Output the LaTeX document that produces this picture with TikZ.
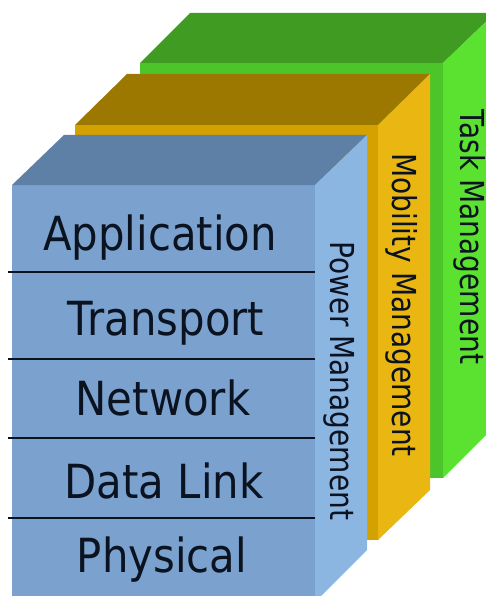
\documentclass[tikz,border=0pt]{standalone}
\usepackage{fontspec}
\newfontfamily\layerfont[FakeStretch=0.89]{DejaVu Sans}
\newfontfamily\planefont[FakeStretch=0.85]{DejaVu Sans}
\definecolor{bluetop}{HTML}{5E7FA6}
\definecolor{bluefront}{HTML}{7BA2CF}
\definecolor{blueside}{HTML}{8CB6E2}
\definecolor{ochretop}{HTML}{9C7800}
\definecolor{ochrefront}{HTML}{D4A200}
\definecolor{ochreside}{HTML}{E9B612}
\definecolor{greentop}{HTML}{3F9B21}
\definecolor{greenfront}{HTML}{4CC52B}
\definecolor{greenside}{HTML}{5BE231}
\definecolor{inktext}{HTML}{0B1220}
\begin{document}
\begin{tikzpicture}[x=1pt,y=-1pt,
  layertext/.style={text=inktext,inner sep=0pt,anchor=base,
    font=\layerfont\fontsize{47}{56}\selectfont},
  sidetext/.style={text=inktext,inner sep=0pt,anchor=base,rotate=-90,
    font=\planefont\fontsize{33}{40}\selectfont},
  divider/.style={draw=inktext,line width=2.4pt}]
\useasboundingbox (0,0) rectangle (486,596);
\clip (0,0) rectangle (486,596);

% Task management block (back)
\fill[greenfront] (140,63) rectangle (443,478);
\fill[greentop] (140,63) -- (190,13) -- (495,13) -- (443,63) -- cycle;
\fill[greenside] (443,63) -- (495,13) -- (495,426) -- (443,478) -- cycle;

% Mobility management block (middle)
\fill[ochrefront] (75,125) rectangle (378,540);
\fill[ochretop] (75,125) -- (127,74) -- (430,74) -- (378,125) -- cycle;
\fill[ochreside] (378,125) -- (430,74) -- (430,490) -- (378,540) -- cycle;

% Power management block with the protocol layers (front)
\fill[bluefront] (12,185) rectangle (315,620);
\fill[bluetop] (12,185) -- (64,135) -- (367,135) -- (315,185) -- cycle;
\fill[blueside] (315,185) -- (367,135) -- (367,550) -- (315,602) -- cycle;

% Layer dividers
\coordinate (d1l) at (8,272);  \coordinate (d1r) at (315,272);
\coordinate (d2l) at (8,359);  \coordinate (d2r) at (315,359);
\coordinate (d3l) at (8,438);  \coordinate (d3r) at (315,438);
\coordinate (d4l) at (8,518);  \coordinate (d4r) at (315,518);
\draw[divider] (d1l) -- (d1r);
\draw[divider] (d2l) -- (d2r);
\draw[divider] (d3l) -- (d3r);
\draw[divider] (d4l) -- (d4r);

% Layer names
\node[layertext] (app) at (160,250) {Application};
\node[layertext] (trn) at (166,335) {Transport};
\node[layertext] (net) at (163,415) {Network};
\node[layertext] (dll) at (164,498) {Data Link};
\node[layertext] (phy) at (162,572) {Physical};

% Management plane names on the side faces
\node[sidetext] (pwr) at (330,381) {Power Management};
\node[sidetext] (mob) at (392,305) {Mobility Management};
\node[sidetext] (tsk) at (460,237) {Task Management};
\end{tikzpicture}
\end{document}
